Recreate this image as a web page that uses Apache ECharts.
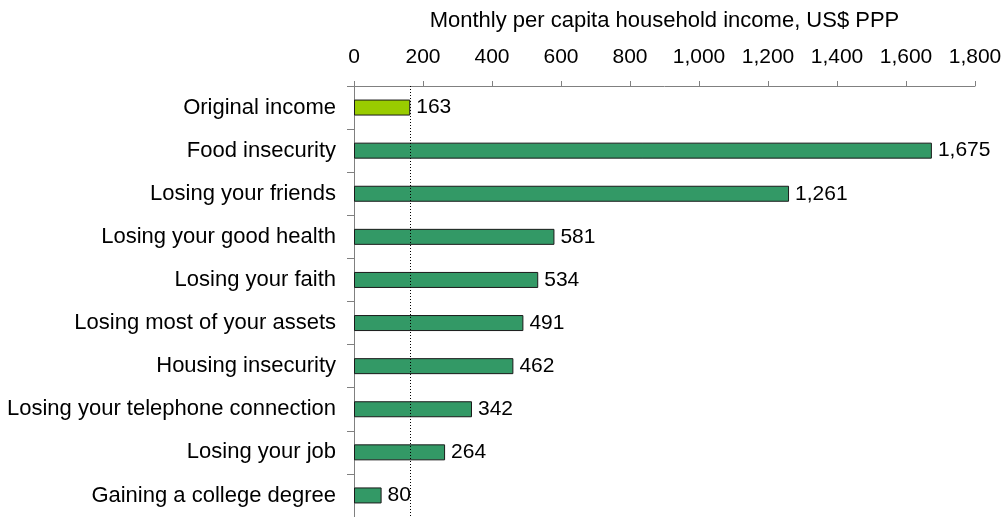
<!DOCTYPE html>
<html>
<head>
<meta charset="utf-8">
<script src="https://cdn.jsdelivr.net/npm/echarts@6/dist/echarts.min.js"></script>
<style>
html,body{margin:0;padding:0;background:#fff;}
#chart{width:1007px;height:517px;}
</style>
</head>
<body>
<div id="chart"></div>
<script>
const categories = [
  "Original income",
  "Food insecurity",
  "Losing your friends",
  "Losing your good health",
  "Losing your faith",
  "Losing most of your assets",
  "Housing insecurity",
  "Losing your telephone connection",
  "Losing your job",
  "Gaining a college degree"
];
const values = [163, 1675, 1261, 581, 534, 491, 462, 342, 264, 80];
const referenceValue = 163;
const axisTitle = "Monthly per capita household income, US$ PPP";

const fmt = v => Number(v).toLocaleString('en-US');
const FONT = 'Liberation Sans, Arial, sans-serif';

const chart = echarts.init(document.getElementById('chart'), null, {renderer: 'canvas'});
chart.setOption({
  animation: false,
  backgroundColor: '#ffffff',
  grid: {left: 354, right: 32, top: 86, bottom: -1, containLabel: false},
  xAxis: {
    type: 'value',
    position: 'top',
    min: 0, max: 1800, interval: 200,
    name: axisTitle,
    nameLocation: 'middle',
    nameGap: 54,
    nameMoveOverlap: false,
    nameTextStyle: {color: '#000', fontSize: 22, fontFamily: FONT, verticalAlign: 'bottom'},
    axisLine: {show: true, lineStyle: {color: '#808080', width: 1}},
    axisTick: {show: true, inside: false, length: 5, lineStyle: {color: '#808080'}},
    axisLabel: {color: '#000', fontSize: 21, fontFamily: FONT, margin: 18, formatter: v => fmt(v)},
    splitLine: {show: false}
  },
  yAxis: {
    type: 'category',
    data: categories,
    inverse: true,
    axisLine: {show: true, lineStyle: {color: '#808080', width: 1}},
    axisTick: {show: true, inside: false, length: 7, lineStyle: {color: '#808080'}},
    axisLabel: {color: '#000', fontSize: 22, fontFamily: FONT, margin: 18},
    splitLine: {show: false}
  },
  series: [{
    type: 'bar',
    barWidth: 16,
    data: values.map((v, i) => i === 0 ? {value: v, itemStyle: {color: '#99CC00'}} : v),
    itemStyle: {color: '#339966', borderColor: '#1a1a1a', borderWidth: 1},
    label: {
      show: true, position: 'right', distance: 6,
      color: '#000', fontSize: 21, fontFamily: FONT,
      formatter: p => fmt(p.value)
    },
    markLine: {
      silent: true,
      symbol: ['none', 'none'],
      label: {show: false},
      lineStyle: {color: '#000', type: [1, 2], width: 1},
      data: [{xAxis: referenceValue}]
    }
  }]
});
</script>
</body>
</html>
